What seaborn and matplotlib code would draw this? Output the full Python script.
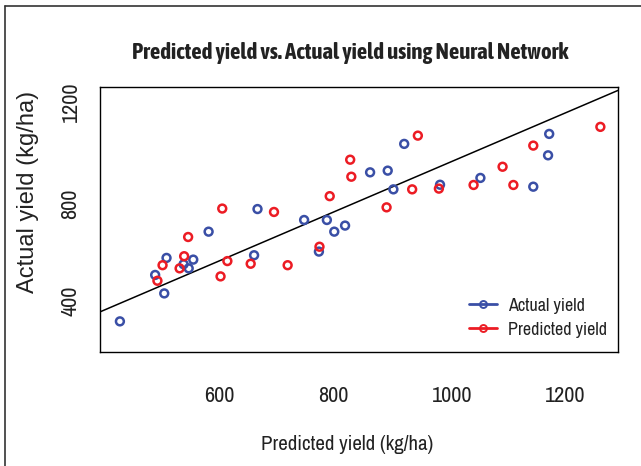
import matplotlib
matplotlib.use("Agg")
import matplotlib.pyplot as plt
import seaborn as sns
import pandas as pd
from matplotlib.lines import Line2D

# ---- data ----
actual_x = [452, 514, 530, 534, 564, 573, 581, 608, 688, 694, 776, 802,
            816, 829, 848, 892, 923, 933, 952, 1015, 1086, 1179, 1205, 1207]
actual_y = [378, 569, 493, 639, 613, 596, 632, 747, 650, 840, 795, 665,
            795, 747, 772, 991, 998, 921, 1108, 940, 968, 932, 1061, 1149]
pred_x = [518, 527, 557, 565, 572, 632, 629, 641, 682, 723, 747, 803,
          821, 857, 859, 921, 966, 976, 1013, 1074, 1125, 1144, 1179, 1297]
pred_y = [545, 609, 596, 646, 725, 842, 563, 626, 615, 828, 609, 685,
          893, 1043, 973, 847, 921, 1142, 924, 939, 1014, 939, 1101, 1178]
series_names = ["Actual yield", "Predicted yield"]
x_ticks = [600, 800, 1000, 1200]
y_ticks = [400, 600, 800, 1000, 1200]
y_tick_labels = ["400", "", "800", "", "1200"]

BLUE = "#3a4fa6"
RED = "#ec1c24"

sns.set_style("white")
NARROW = ["Archivo Narrow", "Liberation Sans", "DejaVu Sans"]
BOLDN = ["Asap Condensed", "Liberation Sans", "DejaVu Sans"]
REG = ["Liberation Sans", "DejaVu Sans"]
plt.rcParams["font.family"] = NARROW

df = pd.concat([
    pd.DataFrame({"x": actual_x, "y": actual_y, "series": series_names[0]}),
    pd.DataFrame({"x": pred_x, "y": pred_y, "series": series_names[1]}),
])

W, H = 641, 466
fig = plt.figure(figsize=(W / 100, H / 100), dpi=100)
ax = fig.add_axes([100 / W, 1 - 352 / H, 518 / W, 265 / H])

for name, col in zip(series_names, [BLUE, RED]):
    sub = df[df["series"] == name]
    sns.scatterplot(data=sub, x="x", y="y", ax=ax, s=32, marker="o",
                    facecolors="none", edgecolor=col, linewidth=1.8,
                    legend=False, zorder=3)

ax.axline((0, 0), slope=1, color="black", lw=1.1, zorder=2)

ax.set_xlim(417, 1328)
ax.set_ylim(252, 1342)
ax.set_xticks(x_ticks)
ax.set_xticklabels([str(t) for t in x_ticks], fontsize=16, ha="left")
ax.set_yticks(y_ticks)
ax.set_yticklabels(y_tick_labels, fontsize=16, rotation=90, va="bottom")
ax.tick_params(axis="x", length=8.5, width=0.9, pad=16, colors="#333333",
               labelcolor="#222222")
ax.tick_params(axis="y", length=8, width=0.9, pad=6, colors="#333333",
               labelcolor="#222222")
ax.set_xlabel("")
ax.set_ylabel("")
for sp in ax.spines.values():
    sp.set_color("black")
    sp.set_linewidth(1.0)

fig.text(350 / W, 1 - 53 / H, "Predicted yield vs. Actual yield using Neural Network",
         ha="center", va="center", fontsize=16.5, fontweight="bold",
         family=BOLDN, color="#222222")
fig.text(347 / W, 1 - 445 / H, "Predicted yield (kg/ha)", ha="center",
         va="center", fontsize=15, family=NARROW, color="#222222")
fig.text(28 / W, 1 - 192 / H, "Actual yield (kg/ha)", ha="center",
         va="center", rotation=90, fontsize=17, family=REG, color="#222222")

handles = [Line2D([0], [0], color=c, lw=2, marker="o", mfc="none", mec=c,
                  ms=5, mew=1.4) for c in [BLUE, RED]]
leg = ax.legend(handles, series_names, loc="lower right",
                bbox_to_anchor=(1.004, 0.007), frameon=False, fontsize=13,
                handlelength=1.5, handletextpad=0.66, labelspacing=0.43,
                borderaxespad=0.3)
for t in leg.get_texts():
    t.set_color("#222222")

# outer frame (top and left edges visible)
fig.add_artist(Line2D([5 / W, 5 / W], [0, 1 - 6 / H], transform=fig.transFigure,
                      color="#333333", lw=1.2))
fig.add_artist(Line2D([5 / W, 1], [1 - 6 / H, 1 - 6 / H], transform=fig.transFigure,
                      color="#333333", lw=1.2))

fig.savefig("out.png", dpi=100)
